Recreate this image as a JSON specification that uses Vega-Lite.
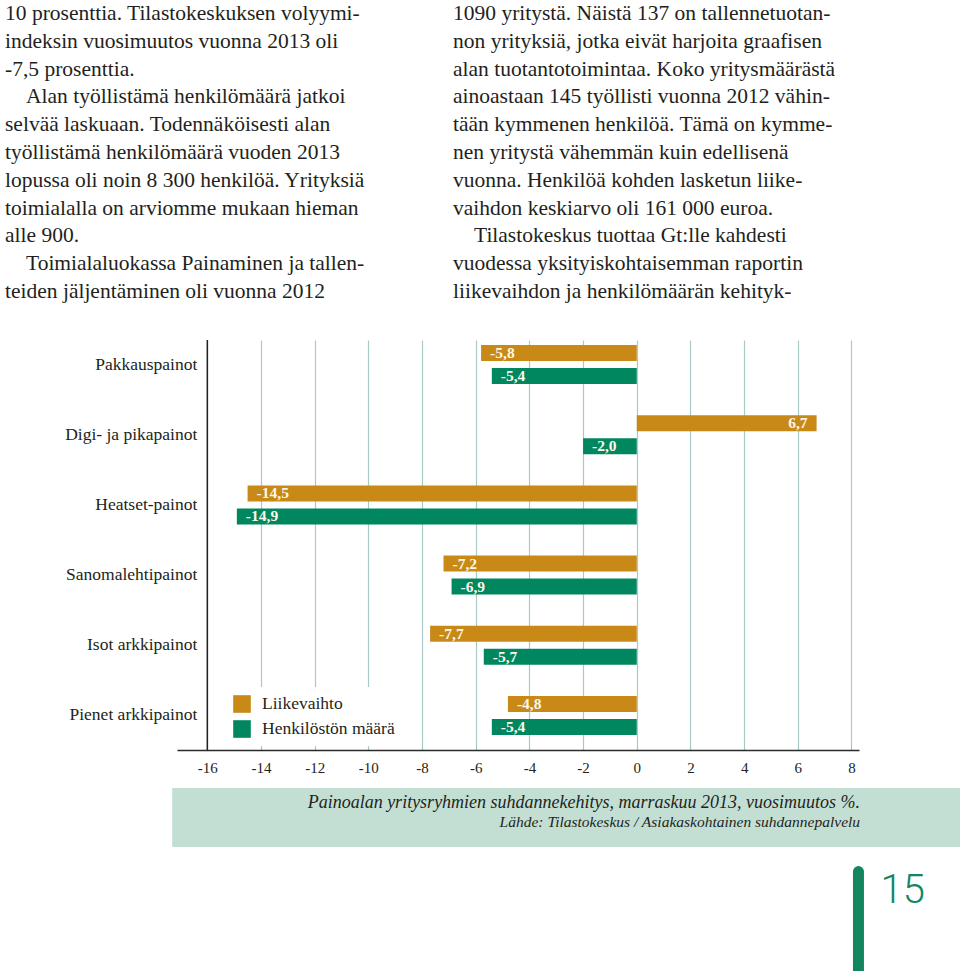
{
  "$schema": "https://vega.github.io/schema/vega-lite/v6.json",
  "width": 682,
  "height": 410,
  "autosize": {"type": "none"},
  "padding": {"left": 177, "top": 340, "right": 101, "bottom": 221},
  "background": "white",
  "config": {
    "view": {"stroke": null},
    "font": "Liberation Serif",
    "locale": {"number": {"decimal": ",", "thousands": " ", "grouping": [3], "currency": ["", " €"], "minus": "-"}}
  },
  "datasets": {
    "bars": [
      {"group": "Pakkauspainot", "series": "Liikevaihto", "value": -5.8},
      {"group": "Pakkauspainot", "series": "Henkilöstön määrä", "value": -5.4},
      {"group": "Digi- ja pikapainot", "series": "Liikevaihto", "value": 6.7},
      {"group": "Digi- ja pikapainot", "series": "Henkilöstön määrä", "value": -2.0},
      {"group": "Heatset-painot", "series": "Liikevaihto", "value": -14.5},
      {"group": "Heatset-painot", "series": "Henkilöstön määrä", "value": -14.9},
      {"group": "Sanomalehtipainot", "series": "Liikevaihto", "value": -7.2},
      {"group": "Sanomalehtipainot", "series": "Henkilöstön määrä", "value": -6.9},
      {"group": "Isot arkkipainot", "series": "Liikevaihto", "value": -7.7},
      {"group": "Isot arkkipainot", "series": "Henkilöstön määrä", "value": -5.7},
      {"group": "Pienet arkkipainot", "series": "Liikevaihto", "value": -4.8},
      {"group": "Pienet arkkipainot", "series": "Henkilöstön määrä", "value": -5.4}
    ],
    "paragraphs": [
      {"col": "L", "line": 0, "first": false, "text": "10 prosenttia. Tilastokeskuksen volyymi-"},
      {"col": "L", "line": 1, "first": false, "text": "indeksin vuosimuutos vuonna 2013 oli"},
      {"col": "L", "line": 2, "first": false, "text": "-7,5 prosenttia."},
      {"col": "L", "line": 3, "first": true, "text": "Alan työllistämä henkilömäärä jatkoi"},
      {"col": "L", "line": 4, "first": false, "text": "selvää laskuaan. Todennäköisesti alan"},
      {"col": "L", "line": 5, "first": false, "text": "työllistämä henkilömäärä vuoden 2013"},
      {"col": "L", "line": 6, "first": false, "text": "lopussa oli noin 8 300 henkilöä. Yrityksiä"},
      {"col": "L", "line": 7, "first": false, "text": "toimialalla on arviomme mukaan hieman"},
      {"col": "L", "line": 8, "first": false, "text": "alle 900."},
      {"col": "L", "line": 9, "first": true, "text": "Toimialaluokassa Painaminen ja tallen-"},
      {"col": "L", "line": 10, "first": false, "text": "teiden jäljentäminen oli vuonna 2012"},
      {"col": "R", "line": 0, "first": false, "text": "1090 yritystä. Näistä 137 on tallennetuotan-"},
      {"col": "R", "line": 1, "first": false, "text": "non yrityksiä, jotka eivät harjoita graafisen"},
      {"col": "R", "line": 2, "first": false, "text": "alan tuotantotoimintaa. Koko yritysmäärästä"},
      {"col": "R", "line": 3, "first": false, "text": "ainoastaan 145 työllisti vuonna 2012 vähin-"},
      {"col": "R", "line": 4, "first": false, "text": "tään kymmenen henkilöä. Tämä on kymme-"},
      {"col": "R", "line": 5, "first": false, "text": "nen yritystä vähemmän kuin edellisenä"},
      {"col": "R", "line": 6, "first": false, "text": "vuonna. Henkilöä kohden lasketun liike-"},
      {"col": "R", "line": 7, "first": false, "text": "vaihdon keskiarvo oli 161 000 euroa."},
      {"col": "R", "line": 8, "first": true, "text": "Tilastokeskus tuottaa Gt:lle kahdesti"},
      {"col": "R", "line": 9, "first": false, "text": "vuodessa yksityiskohtaisemman raportin"},
      {"col": "R", "line": 10, "first": false, "text": "liikevaihdon ja henkilömäärän kehityk-"}
    ],
    "caption": [
      {"line": 1, "text": "Painoalan yritysryhmien suhdannekehitys, marraskuu 2013, vuosimuutos %."},
      {"line": 2, "text": "Lähde: Tilastokeskus  / Asiakaskohtainen suhdannepalvelu"}
    ]
  },
  "layer": [
    {
      "layer": [
        {
          "data": {"name": "bars"},
          "layer": [
            {
              "mark": {"type": "bar"},
              "encoding": {
                "y": {"field": "group", "type": "nominal", "sort": ["Pakkauspainot", "Digi- ja pikapainot", "Heatset-painot", "Sanomalehtipainot", "Isot arkkipainot", "Pienet arkkipainot"], "scale": {"paddingInner": 0.4444, "paddingOuter": 0.1425, "align": 0.25}, "axis": null},
                "yOffset": {"field": "series", "type": "nominal", "sort": ["Liikevaihto", "Henkilöstön määrä"], "scale": {"paddingInner": 0.304, "paddingOuter": 0}},
                "x": {"field": "value", "type": "quantitative", "scale": {"domain": [-17.13, 8.28], "nice": false, "zero": false},
                  "axis": {"values": [-16, -14, -12, -10, -8, -6, -4, -2, 0, 2, 4, 6, 8], "format": "d", "title": null, "grid": true, "gridColor": "#a8c9c5", "gridWidth": 1.2, "ticks": false, "tickSize": 0, "domainColor": "#2a2a2a", "domainWidth": 1.3, "labelFont": "Liberation Serif", "labelFontSize": 15, "labelColor": "#231f20", "labelPadding": 10, "labelFlush": false, "labelOverlap": false}},
                "x2": {"datum": 0},
                "color": {"field": "series", "type": "nominal", "sort": ["Liikevaihto", "Henkilöstön määrä"],
                  "scale": {"domain": ["Liikevaihto", "Henkilöstön määrä"], "range": ["#c88917", "#00875f"]},
                  "legend": {"title": null, "orient": "none", "legendX": 48, "legendY": 347, "direction": "vertical", "fillColor": "white", "padding": 8, "symbolType": "square", "symbolSize": 310, "symbolStrokeWidth": 0, "symbolOpacity": 1, "labelFont": "Liberation Serif", "labelFontSize": 17.5, "labelColor": "#231f20", "labelOffset": 11, "rowPadding": 7}}
              }
            },
            {
              "transform": [{"filter": "datum.value < 0"}],
              "mark": {"type": "text", "align": "left", "baseline": "middle", "dx": 9, "fontWeight": "bold", "fontSize": 15.5, "color": "#fdf7e8"},
              "encoding": {
                "y": {"field": "group", "type": "nominal", "sort": ["Pakkauspainot", "Digi- ja pikapainot", "Heatset-painot", "Sanomalehtipainot", "Isot arkkipainot", "Pienet arkkipainot"]},
                "yOffset": {"field": "series", "type": "nominal", "sort": ["Liikevaihto", "Henkilöstön määrä"]},
                "x": {"field": "value", "type": "quantitative"},
                "text": {"field": "value", "type": "quantitative", "format": ".1f"}
              }
            },
            {
              "transform": [{"filter": "datum.value >= 0"}],
              "mark": {"type": "text", "align": "right", "baseline": "middle", "dx": -9, "fontWeight": "bold", "fontSize": 15.5, "color": "#fdf7e8"},
              "encoding": {
                "y": {"field": "group", "type": "nominal", "sort": ["Pakkauspainot", "Digi- ja pikapainot", "Heatset-painot", "Sanomalehtipainot", "Isot arkkipainot", "Pienet arkkipainot"]},
                "yOffset": {"field": "series", "type": "nominal", "sort": ["Liikevaihto", "Henkilöstön määrä"]},
                "x": {"field": "value", "type": "quantitative"},
                "text": {"field": "value", "type": "quantitative", "format": ".1f"}
              }
            },
            {
              "transform": [{"filter": "datum.series === 'Liikevaihto'"}],
              "mark": {"type": "text", "align": "right", "baseline": "middle", "dx": -10, "fontSize": 17.5, "color": "#231f20"},
              "encoding": {
                "y": {"field": "group", "type": "nominal", "sort": ["Pakkauspainot", "Digi- ja pikapainot", "Heatset-painot", "Sanomalehtipainot", "Isot arkkipainot", "Pienet arkkipainot"]},
                "x": {"datum": -16},
                "text": {"field": "group"}
              }
            },
            {
              "data": {"values": [{"ref": -16}]},
              "mark": {"type": "rule", "color": "#231f20", "strokeWidth": 1.5},
              "encoding": {"x": {"field": "ref", "type": "quantitative"}}
            }
          ]
        },
        {
          "layer": [
            {
              "data": {"values": [{}]},
              "mark": {"type": "rect", "color": "#c3dfd4"},
              "encoding": {
                "x": {"datum": -17.31},
                "x2": {"datum": 12.1},
                "y": {"datum": 0, "type": "quantitative", "scale": {"domain": [0, 3], "range": [448, 507], "nice": false, "zero": false}, "axis": null},
                "y2": {"datum": 3}
              }
            },
            {
              "data": {"name": "caption"},
              "transform": [{"filter": "datum.line === 1"}],
              "mark": {"type": "text", "align": "right", "baseline": "alphabetic", "fontStyle": "italic", "fontSize": 18, "color": "#231f20"},
              "encoding": {"x": {"datum": 8.32}, "y": {"field": "line", "type": "quantitative", "axis": null}, "text": {"field": "text"}}
            },
            {
              "data": {"name": "caption"},
              "transform": [{"filter": "datum.line === 2"}],
              "mark": {"type": "text", "align": "right", "baseline": "alphabetic", "fontStyle": "italic", "fontSize": 15.5, "color": "#231f20"},
              "encoding": {"x": {"datum": 8.32}, "y": {"field": "line", "type": "quantitative", "axis": null}, "text": {"field": "text"}}
            },
            {
              "data": {"values": [{"page": "15"}]},
              "mark": {"type": "rule", "color": "#12875f", "strokeWidth": 11, "strokeCap": "round"},
              "encoding": {"x": {"datum": 8.26}, "y": {"datum": 4.25, "type": "quantitative", "axis": null}, "y2": {"datum": 9.5}}
            },
            {
              "data": {"values": [{"page": "15"}]},
              "mark": {"type": "text", "align": "left", "baseline": "alphabetic", "dx": 22, "font": "Roboto", "fontWeight": 300, "fontSize": 40, "color": "#12875f"},
              "encoding": {"x": {"datum": 8.26}, "y": {"datum": 5.85, "type": "quantitative", "axis": null}, "text": {"field": "page"}}
            }
          ]
        }
      ],
      "resolve": {"scale": {"y": "independent"}}
    },
    {
      "data": {"name": "paragraphs"},
      "encoding": {
        "x": {"field": "col", "type": "nominal", "scale": {"type": "point", "domain": ["L", "R"], "range": [-172, 276], "padding": 0}, "axis": null},
        "y": {"field": "line", "type": "ordinal", "scale": {"type": "point", "domain": [0, 1, 2, 3, 4, 5, 6, 7, 8, 9, 10], "range": [-320, -42], "padding": 0}, "axis": null},
        "text": {"field": "text"}
      },
      "layer": [
        {
          "transform": [{"filter": "!datum.first"}],
          "mark": {"type": "text", "align": "left", "baseline": "alphabetic", "fontSize": 21.5, "color": "#231f20"}
        },
        {
          "transform": [{"filter": "datum.first"}],
          "mark": {"type": "text", "align": "left", "baseline": "alphabetic", "dx": 21, "fontSize": 21.5, "color": "#231f20"}
        }
      ]
    }
  ],
  "resolve": {"scale": {"x": "independent", "y": "independent"}}
}
